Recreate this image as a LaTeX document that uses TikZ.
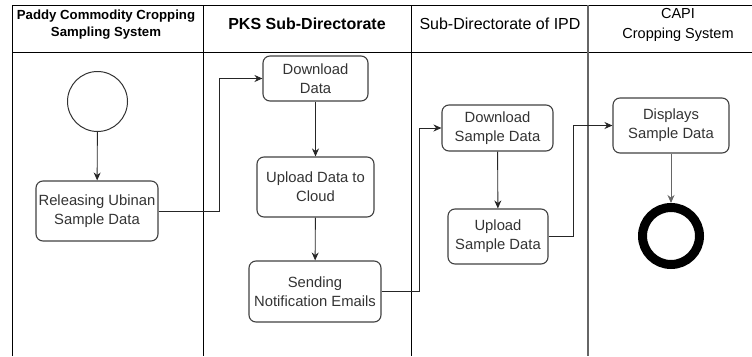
\documentclass[tikz,border=0pt]{standalone}
\usepackage{fontspec}
\setmainfont{Liberation Sans}
\usetikzlibrary{arrows.meta}
\begin{document}
\begin{tikzpicture}[x=1pt,y=-1pt,
  act/.style={draw=black!75, line width=1.1pt, rounded corners=7pt, align=center,
    font=\fontsize{14.8}{19}\selectfont, text=black!80, inner sep=0pt},
  flow/.style={draw=black!85, line width=0.9pt, -{Stealth[length=8pt,width=7pt]}},
  lane/.style={draw=black, line width=0.8pt},
  head/.style={align=center, inner sep=0pt}]
\useasboundingbox (0,0) rectangle (752,356);

% swimlane frame
\draw[lane] (12,356) -- (12,5) -- (752,5);
\draw[lane] (12,52) -- (752,52);
\draw[lane] (203,5) -- (203,356);
\draw[lane] (411,5) -- (411,356);
\draw[lane, draw=black!60, line width=1.1pt] (588,5) -- (588,356);

% lane headings
\node[head, font=\bfseries\fontsize{13.2}{17.5}\selectfont] (h1) at (106,24.5) {Paddy Commodity Cropping\\Sampling System};
\node[head, font=\bfseries\fontsize{16}{19}\selectfont] (h2) at (307,24) {PKS Sub-Directorate};
\node[head, font=\fontsize{16}{19}\selectfont] (h3) at (500,24) {Sub-Directorate of IPD};
\node[head, font=\fontsize{14.5}{20}\selectfont] (h4) at (678,25) {CAPI\\Cropping System};

% activities
\node[circle, draw=black!80, line width=1pt, minimum size=60pt, inner sep=0pt] (start) at (97.5,101.5) {};
\node[act, minimum width=122pt, minimum height=60pt] (rel) at (97,211) {Releasing Ubinan\\Sample Data};
\node[act, minimum width=105pt, minimum height=45pt] (dl) at (315.5,78.5) {Download\\Data};
\node[act, minimum width=117pt, minimum height=60pt] (up) at (315.5,187) {Upload Data to\\Cloud};
\node[act, minimum width=132pt, minimum height=61pt] (send) at (315,291.5) {Sending\\Notification Emails};
\node[act, minimum width=111pt, minimum height=46pt] (dsd) at (497.5,128) {Download\\Sample Data};
\node[act, minimum width=100pt, minimum height=55pt] (usd) at (498,236.5) {Upload\\Sample Data};
\node[act, minimum width=116pt, minimum height=55pt] (disp) at (671,125.5) {Displays\\Sample Data};
\node[circle, draw=black, line width=9pt, minimum size=57pt, inner sep=0pt] (end) at (671,236) {};

% control flow
\draw[flow] (start) -- (rel);
\draw[flow] (rel.east) -- ++(61,0) |- (dl.west);
\draw[flow] (dl) -- (up);
\draw[flow] (up) -- (send);
\draw[flow] (send.east) -- ++(38,0) |- (dsd.west);
\draw[flow] (dsd) -- (usd);
\draw[flow] (usd.east) -- ++(25,0) |- (disp.west);
\draw[flow, draw=black!60] (disp) -- (end);
\end{tikzpicture}
\end{document}
